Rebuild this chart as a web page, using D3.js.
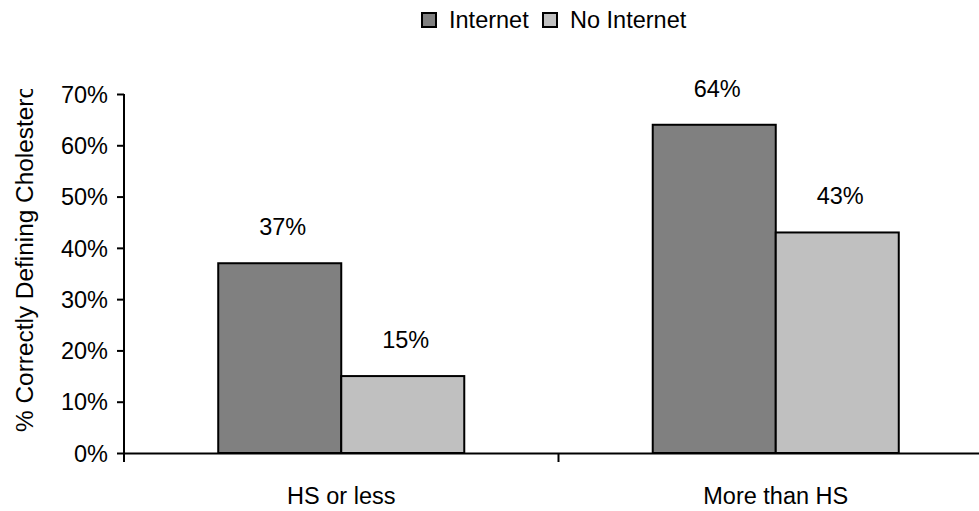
<!DOCTYPE html>
<html><head><meta charset="utf-8">
<script src="https://cdn.jsdelivr.net/npm/d3@7"></script>
<style>
body{margin:0;background:#fff;}
text{font-family:"Liberation Sans",Arial,sans-serif;fill:#000;}
</style></head>
<body><svg id="c" width="979" height="511"></svg>
<script>
const categories = ["HS or less", "More than HS"];
const series = ["Internet", "No Internet"];
const internetValues = [0.37, 0.64];
const noInternetValues = [0.15, 0.43];
const seriesColors = ["#808080", "#C0C0C0"];
const yTicks = [0, 0.1, 0.2, 0.3, 0.4, 0.5, 0.6, 0.7];
const yTitle = "% Correctly Defining Cholesterol";

const values = [internetValues, noInternetValues];
const svg = d3.select("#c");
const fs = 23.5;

const x = d3.scaleBand().domain(categories).range([124, 993]).padding(0);
const xs = d3.scaleBand().domain(series).range([0, x.bandwidth()]).paddingInner(0).paddingOuter(0.766);
const y = d3.scaleLinear().domain([0, 0.7]).range([453, 94]);

// bars
series.forEach((s, si) => {
  const g = svg.append("g");
  g.selectAll("rect").data(categories).join("rect")
    .attr("x", c => x(c) + xs(s))
    .attr("y", (c, i) => y(values[si][i]))
    .attr("width", xs.bandwidth())
    .attr("height", (c, i) => y(0) - y(values[si][i]))
    .attr("fill", seriesColors[si])
    .attr("stroke", "#000").attr("stroke-width", 2);
  g.selectAll("text").data(categories).join("text")
    .attr("x", c => x(c) + xs(s) + xs.bandwidth() / 2 + 3)
    .attr("y", (c, i) => y(values[si][i]) - 28)
    .attr("text-anchor", "middle").attr("font-size", fs)
    .text((c, i) => d3.format(".0%")(values[si][i]));
});

// y axis
const ya = svg.append("g").attr("transform", "translate(124,0)")
  .call(d3.axisLeft(y).tickValues(yTicks).tickFormat(d3.format(".0%")).tickSize(7).tickPadding(9));
ya.select(".domain").attr("stroke", "#000").attr("stroke-width", 2).attr("d", `M-0,${y(0.7)}V${y(0)}`);
ya.selectAll(".tick line").attr("stroke", "#000").attr("stroke-width", 2);
ya.selectAll(".tick text").attr("font-size", fs).attr("font-family", "Liberation Sans, Arial, sans-serif").attr("dy", "0.35em");

// x axis
const xa = svg.append("g").attr("transform", `translate(0,${y(0)})`)
  .call(d3.axisBottom(x).tickSize(0).tickPadding(34));
xa.select(".domain").attr("stroke", "#000").attr("stroke-width", 2);
xa.selectAll(".tick text").attr("font-size", fs).attr("font-family", "Liberation Sans, Arial, sans-serif");
const edges = categories.map(c => x(c)).concat([x(categories[categories.length - 1]) + x.bandwidth()]);
xa.selectAll(".edge").data(edges).join("line").attr("class", "edge")
  .attr("x1", d => d).attr("x2", d => d).attr("y1", 0).attr("y2", 9)
  .attr("stroke", "#000").attr("stroke-width", 2);

// y title (clipped)
svg.append("clipPath").attr("id", "tclip").append("rect").attr("x", 0).attr("y", 89).attr("width", 60).attr("height", 420);
svg.append("g").attr("clip-path", "url(#tclip)")
  .append("text")
  .attr("transform", "translate(33,432) rotate(-90)")
  .attr("font-size", 24.4).text(yTitle);

// legend
const lx = [422, 543];
series.forEach((s, i) => {
  svg.append("rect").attr("x", lx[i]).attr("y", 13).attr("width", 14).attr("height", 14)
    .attr("fill", seriesColors[i]).attr("stroke", "#000").attr("stroke-width", 2);
  svg.append("text").attr("x", lx[i] + 27).attr("y", 28).attr("font-size", fs).text(s);
});
</script></body></html>
